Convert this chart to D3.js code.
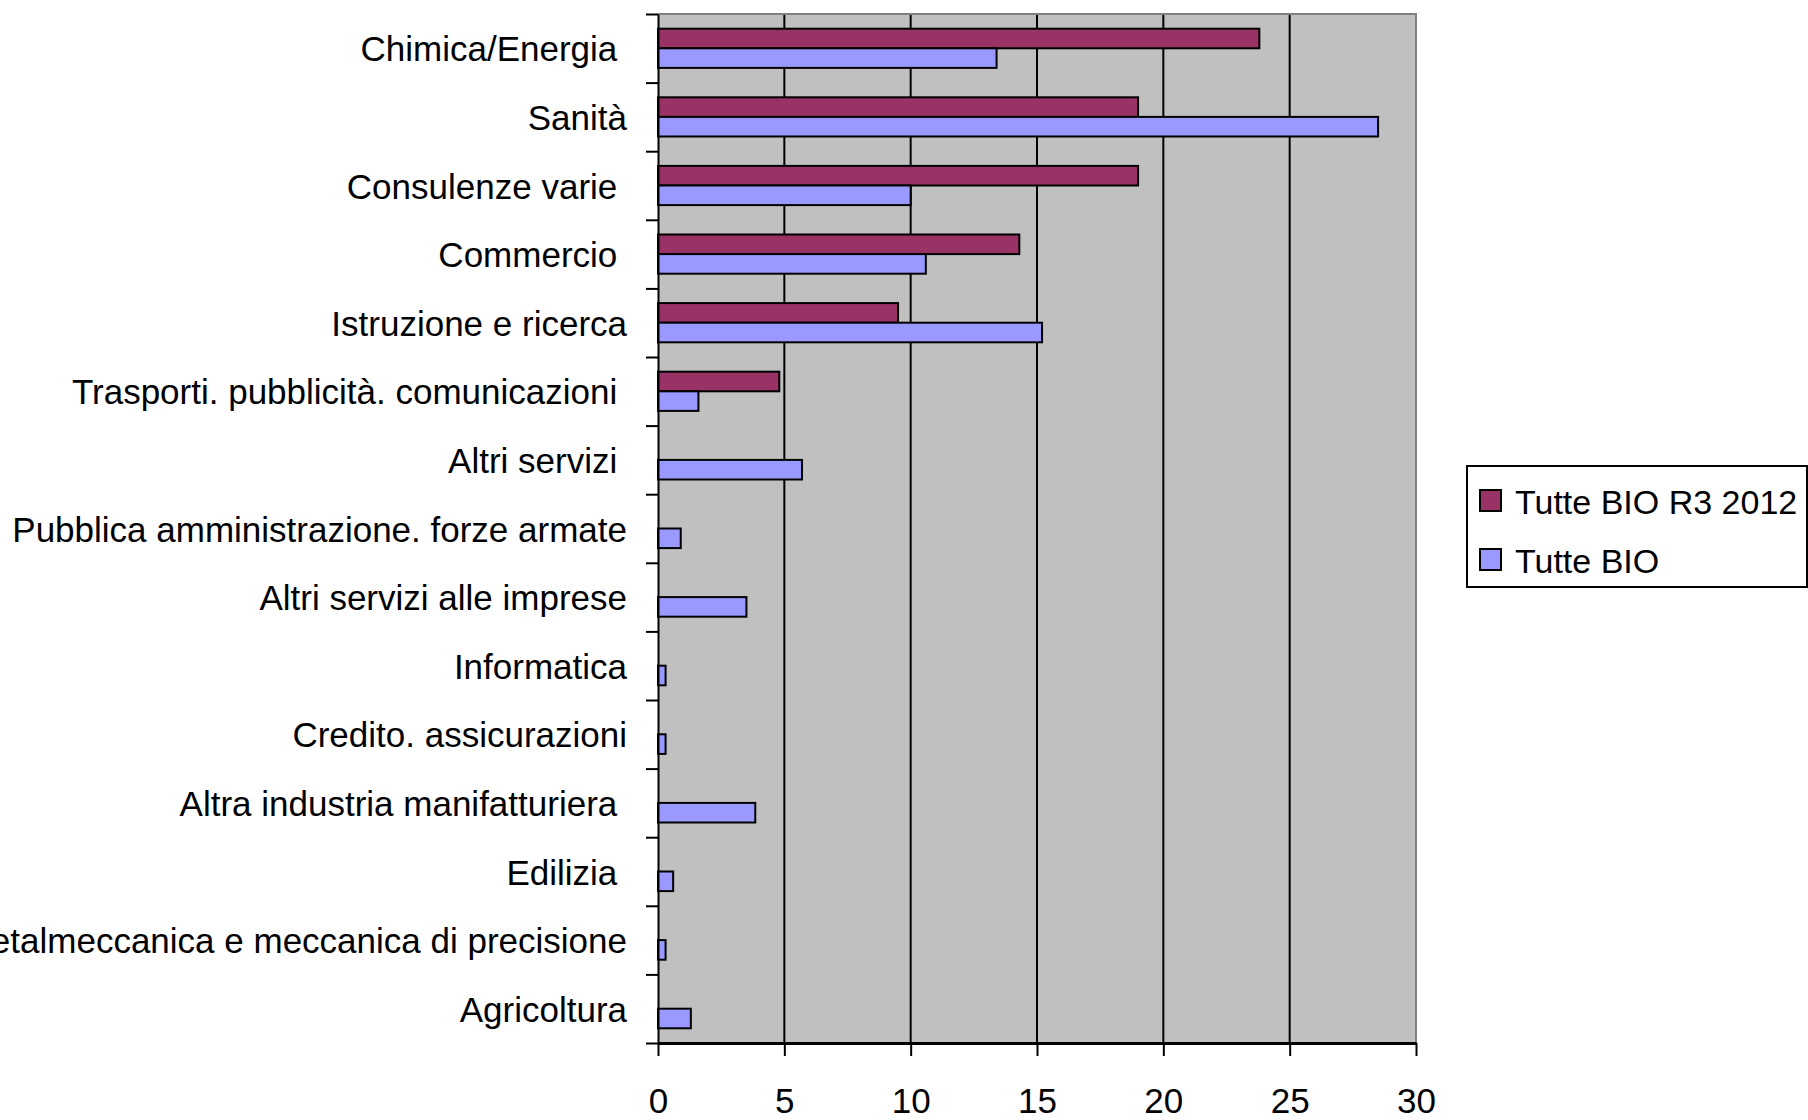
<!DOCTYPE html>
<html><head><meta charset="utf-8">
<script src="https://cdn.jsdelivr.net/npm/d3@7"></script>
<style>
body{margin:0;background:#fff}
text{font-family:"Liberation Sans",Arial,sans-serif;white-space:pre}
</style>
</head><body>
<svg id="c" width="1808" height="1120" xml:space="preserve"></svg>
<script>
const categories = ["Chimica/Energia ","Sanità","Consulenze varie ","Commercio ","Istruzione e ricerca","Trasporti. pubblicità. comunicazioni ","Altri servizi ","Pubblica amministrazione. forze armate","Altri servizi alle imprese","Informatica","Credito. assicurazioni","Altra industria manifatturiera ","Edilizia ","Metalmeccanica e meccanica di precisione","Agricoltura"];
const seriesNames = ["Tutte BIO R3 2012","Tutte BIO"];
const tutteBioR3 = [23.8,19.0,19.0,14.3,9.5,4.8,null,null,null,null,null,null,null,null,null];
const tutteBio = [13.4,28.5,10.0,10.6,15.2,1.6,5.7,0.9,3.5,0.3,0.3,3.85,0.6,0.3,1.3];
const xTicks = [0,5,10,15,20,25,30];
const colors = ["#993366","#9999FF"];

const svg = d3.select("#c");
svg.append("rect").attr("width",1808).attr("height",1120).attr("fill","#fff");
const L=658, R=1416, T=14, B=1043;
const x = d3.scaleLinear().domain([0,30]).range([L,R]);
const y = d3.scaleBand().domain(categories).range([T,B]).padding(0);
const ys = d3.scaleBand().domain(seriesNames).range([0,y.bandwidth()]).paddingInner(0).paddingOuter(0.75);
const yIdx = d3.scaleLinear().domain([0,categories.length]).range([T,B]);

// plot background
svg.append("rect").attr("x",L).attr("y",T).attr("width",R-L).attr("height",B-T).attr("fill","#C0C0C0");
// gridlines
svg.append("g").selectAll("line").data(xTicks.filter(v=>v>0&&v<30)).join("line")
  .attr("x1",d=>x(d)).attr("x2",d=>x(d)).attr("y1",T).attr("y2",B)
  .attr("stroke","#000").attr("stroke-width",2);
// top/right border
svg.append("path").attr("d",`M${L},${T}H${R}V${B}`).attr("fill","none").attr("stroke","#808080").attr("stroke-width",2);

// bars
const rows = categories.map((c,i)=>({c, vals:[tutteBioR3[i],tutteBio[i]]}));
const g = svg.append("g").selectAll("g").data(rows).join("g").attr("transform",d=>`translate(0,${y(d.c)})`);
g.selectAll("rect").data(d=>d.vals.map((v,k)=>({v,k})).filter(e=>e.v!=null&&e.v>0)).join("rect")
  .attr("x",x(0)).attr("y",e=>ys(seriesNames[e.k])).attr("width",e=>x(e.v)-x(0)).attr("height",ys.bandwidth())
  .attr("fill",e=>colors[e.k]).attr("stroke","#000").attr("stroke-width",2);

// left axis (ticks at category boundaries)
const la = svg.append("g").attr("transform",`translate(${L},0)`)
  .call(d3.axisLeft(yIdx).tickValues(d3.range(categories.length+1)).tickFormat("").tickSize(12).tickSizeOuter(0));
la.select(".domain").attr("stroke","#000").attr("stroke-width",2);
la.selectAll(".tick line").attr("stroke","#000").attr("stroke-width",2);

// category labels
svg.append("g").selectAll("text").data(categories).join("text")
  .attr("x",627).attr("y",d=>y(d)+y.bandwidth()/2+13)
  .attr("text-anchor","end").attr("font-size",35).attr("fill","#000")
  .attr("xml:space","preserve").text(d=>d);

// bottom axis
const ba = svg.append("g").attr("transform",`translate(0,${B})`)
  .call(d3.axisBottom(x).tickValues(xTicks).tickSize(13).tickSizeOuter(0).tickPadding(32));
ba.select(".domain").attr("stroke","#000").attr("stroke-width",3);
ba.selectAll(".tick line").attr("stroke","#000").attr("stroke-width",2);
ba.selectAll(".tick text").attr("font-size",35).attr("fill","#000").attr("font-family","'Liberation Sans',Arial,sans-serif");

// legend
const lg = svg.append("g");
lg.append("rect").attr("x",1467).attr("y",466).attr("width",340).attr("height",121)
  .attr("fill","#fff").attr("stroke","#000").attr("stroke-width",2);
const li = lg.selectAll("g.item").data(seriesNames).join("g").attr("class","item")
  .attr("transform",(d,i)=>`translate(1480,${490+i*59})`);
li.append("rect").attr("width",21).attr("height",21).attr("fill",(d,i)=>colors[i]).attr("stroke","#000").attr("stroke-width",2);
li.append("text").attr("x",35).attr("y",24).attr("font-size",34).attr("fill","#000").text(d=>d);
</script>
</body></html>
